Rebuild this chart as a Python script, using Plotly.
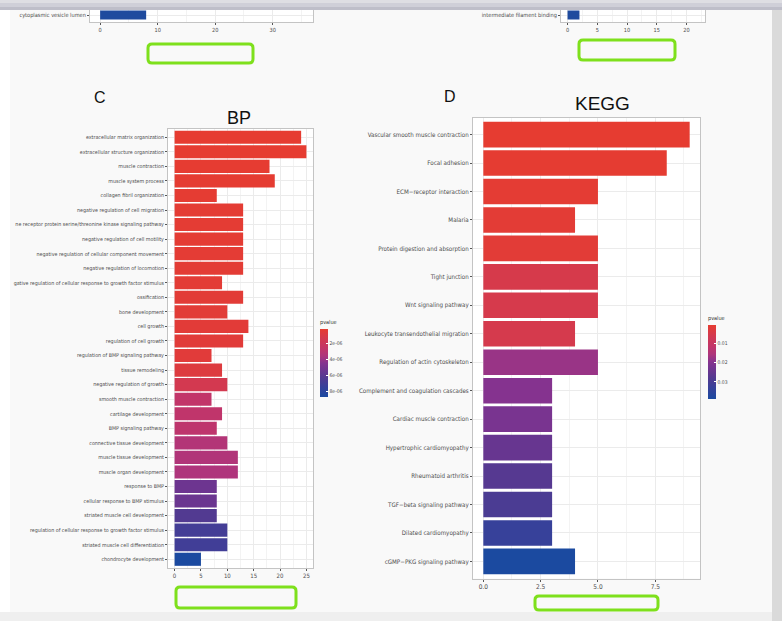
import plotly.graph_objects as go

W, H = 782, 621

def X(p):
    return p / W

def Y(p):
    return 1 - p / H

# ---------------- data ----------------
bp_terms = [
    "extracellular matrix organization",
    "extracellular structure organization",
    "muscle contraction",
    "muscle system process",
    "collagen fibril organization",
    "negative regulation of cell migration",
    "transmembrane receptor protein serine/threonine kinase signaling pathway",
    "negative regulation of cell motility",
    "negative regulation of cellular component movement",
    "negative regulation of locomotion",
    "negative regulation of cellular response to growth factor stimulus",
    "ossification",
    "bone development",
    "cell growth",
    "regulation of cell growth",
    "regulation of BMP signaling pathway",
    "tissue remodeling",
    "negative regulation of growth",
    "smooth muscle contraction",
    "cartilage development",
    "BMP signaling pathway",
    "connective tissue development",
    "muscle tissue development",
    "muscle organ development",
    "response to BMP",
    "cellular response to BMP stimulus",
    "striated muscle cell development",
    "regulation of cellular response to growth factor stimulus",
    "striated muscle cell differentiation",
    "chondrocyte development",
]
# the two longest labels are cut at the left edge of the figure in the reference
bp_labels_shown = [
    "ne receptor protein serine/threonine kinase signaling pathway" if t.startswith("transmembrane")
    else "gative regulation of cellular response to growth factor stimulus" if t.startswith("negative regulation of cellular response")
    else t
    for t in bp_terms
]
bp_counts = [24, 25, 18, 19, 8, 13, 13, 13, 13, 13, 9, 13, 10, 14, 13,
             7, 9, 10, 7, 9, 8, 10, 12, 12, 8, 8, 8, 10, 10, 5]
bp_pvalues = [1.5e-7, 1.6e-7, 1.8e-7, 2.0e-7, 2.2e-7, 2.5e-7, 2.6e-7, 2.8e-7,
              3.0e-7, 3.2e-7, 3.5e-7, 3.8e-7, 4.0e-7, 4.3e-7, 4.6e-7, 5.0e-7,
              7.0e-7, 1.4e-6, 2.6e-6, 2.7e-6, 2.8e-6, 3.3e-6, 3.4e-6, 3.5e-6,
              5.3e-6, 5.4e-6, 6.3e-6, 6.9e-6, 7.0e-6, 8.7e-6]
bp_cbar_ticks = [2e-6, 4e-6, 6e-6, 8e-6]
bp_cbar_labels = ["2e-06", "4e-06", "6e-06", "8e-06"]
bp_xticks = [0, 5, 10, 15, 20, 25]

kegg_terms = [
    "Vascular smooth muscle contraction",
    "Focal adhesion",
    "ECM\u2212receptor interaction",
    "Malaria",
    "Protein digestion and absorption",
    "Tight junction",
    "Wnt signaling pathway",
    "Leukocyte transendothelial migration",
    "Regulation of actin cytoskeleton",
    "Complement and coagulation cascades",
    "Cardiac muscle contraction",
    "Hypertrophic cardiomyopathy",
    "Rheumatoid arthritis",
    "TGF\u2212beta signaling pathway",
    "Dilated cardiomyopathy",
    "cGMP\u2212PKG signaling pathway",
]
kegg_counts = [9, 8, 5, 4, 5, 5, 5, 4, 5, 3, 3, 3, 3, 3, 3, 4]
kegg_pvalues = [0.00067, 0.0009, 0.0012, 0.0015, 0.0018, 0.0053, 0.0054, 0.0056,
                0.0179, 0.0198, 0.0217, 0.0248, 0.0275, 0.0294, 0.0332, 0.0389]
kegg_cbar_ticks = [0.01, 0.02, 0.03]
kegg_cbar_labels = ["0.01", "0.02", "0.03"]
kegg_xticks = [0, 2.5, 5, 7.5]
kegg_xlabels = ["0.0", "2.5", "5.0", "7.5"]

cc_term = ["cytoplasmic vesicle lumen"]
cc_count = [8]
cc_xticks = [0, 10, 20, 30]
mf_term = ["intermediate filament binding"]
mf_count = [2]
mf_xticks = [0, 5, 10, 15, 20]

# ---------------- style ----------------
NARROW = "Liberation Sans Narrow, DejaVu Sans Condensed, Arial Narrow, sans-serif"
SANS = "Liberation Sans, Arial, sans-serif"
TICKCOL = "#4d4d4d"
GRID = "#ebebeb"
FRAME = "#c4c4c4"
BLUE = "#1F4B9E"

# colorscale for -pvalue (0 = largest p -> blue, 1 = smallest p -> red)
cscale = [[0.0, "#1B4AA0"], [0.15, "#37419A"], [0.28, "#523A91"],
          [0.40, "#6E3590"], [0.50, "#85338F"], [0.60, "#AD357D"],
          [0.70, "#C0356B"], [0.88, "#D63A4B"], [1.0, "#E63C31"]]

fig = go.Figure()

def colorbar(xpx, ytop, ybot, ticks, labels):
    return dict(
        x=X(xpx), xanchor="left", xpad=0,
        y=Y((ytop + ybot) / 2), yanchor="middle", ypad=0,
        len=ybot - ytop, lenmode="pixels", thickness=8,
        outlinewidth=0,
        tickvals=[-t for t in ticks], ticktext=labels,
        ticks="inside", ticklen=2, tickcolor="white", tickwidth=1,
        tickfont=dict(family=NARROW, size=5, color=TICKCOL),
        title=dict(text="pvalue", side="top",
                   font=dict(family=NARROW, size=5.5, color="#333")),
    )

# BP
fig.add_trace(go.Bar(
    x=bp_counts, y=bp_terms, orientation="h", width=0.9,
    xaxis="x", yaxis="y",
    marker=dict(color=[-p for p in bp_pvalues], colorscale=cscale,
                cmin=-8.7e-6, cmax=-1.5e-7, line=dict(width=0),
                showscale=True,
                colorbar=colorbar(320, 316.7, 396.7, bp_cbar_ticks, bp_cbar_labels)),
    showlegend=False,
))

# KEGG
fig.add_trace(go.Bar(
    x=kegg_counts, y=kegg_terms, orientation="h", width=0.9,
    xaxis="x2", yaxis="y2",
    marker=dict(color=[-p for p in kegg_pvalues], colorscale=cscale,
                cmin=-0.0389, cmax=-0.00067, line=dict(width=0),
                showscale=True,
                colorbar=colorbar(708, 313, 399, kegg_cbar_ticks, kegg_cbar_labels)),
    showlegend=False,
))

# mini CC
fig.add_trace(go.Bar(x=cc_count, y=cc_term, orientation="h", width=0.9,
                     xaxis="x3", yaxis="y3", marker=dict(color=BLUE, line=dict(width=0)),
                     showlegend=False))
# mini MF
fig.add_trace(go.Bar(x=mf_count, y=mf_term, orientation="h", width=0.9,
                     xaxis="x4", yaxis="y4", marker=dict(color=BLUE, line=dict(width=0)),
                     showlegend=False))


def xaxis(dom, rng, tickvals, ticktext, minor_dtick, anchor, size):
    return dict(
        domain=[X(dom[0]), X(dom[1])], range=rng, anchor=anchor,
        tickvals=tickvals, ticktext=ticktext, automargin=False,
        showgrid=True, gridcolor=GRID, gridwidth=1,
        minor=dict(dtick=minor_dtick, tick0=0, showgrid=True, gridcolor="#f3f3f3",
                   gridwidth=0.6, ticks=""),
        showline=True, mirror=True, linecolor=FRAME, linewidth=1,
        ticks="outside", ticklen=2, tickcolor="#555", tickwidth=0.7,
        tickfont=dict(family=NARROW, size=size, color=TICKCOL),
        zeroline=False, fixedrange=True,
    )


def yaxis(dom, rng, anchor, size, tickvals=None, ticktext=None):
    d = dict(
        domain=[Y(dom[1]), Y(dom[0])], range=rng, anchor=anchor,
        type="category", automargin=False,
        showgrid=True, gridcolor=GRID, gridwidth=1,
        showline=True, mirror=True, linecolor=FRAME, linewidth=1,
        ticks="outside", ticklen=2, tickcolor="#555", tickwidth=0.7,
        tickfont=dict(family=NARROW, size=size, color=TICKCOL),
        zeroline=False, fixedrange=True,
    )
    if tickvals is not None:
        d.update(tickmode="array", tickvals=tickvals, ticktext=ticktext)
    return d

n_bp = len(bp_terms)
n_kegg = len(kegg_terms)

fig.update_layout(
    width=W, height=H,
    margin=dict(l=0, r=0, t=0, b=0, autoexpand=False),
    paper_bgcolor="#f9f9f9", plot_bgcolor="white",
    bargap=0.1,
    xaxis=xaxis((168, 313), [-1.25, 26.25], bp_xticks, [str(v) for v in bp_xticks], 2.5, "y", 6),
    yaxis=yaxis((128.5, 568), [n_bp - 0.4, -0.6], "x", 5.3, bp_terms, bp_labels_shown),
    xaxis2=xaxis((473, 700), [-0.45, 9.45], kegg_xticks, kegg_xlabels, 1.25, "y2", 6.5),
    yaxis2=yaxis((117.5, 578.5), [n_kegg - 0.4, -0.6], "x2", 6.2),
    xaxis3=xaxis((90, 313), [-1.76, 37.0], cc_xticks, [str(v) for v in cc_xticks], 5, "y3", 5.6),
    yaxis3=yaxis((0, 22), [0.7, -1.5], "x3", 5.6),
    xaxis4=xaxis((561, 705), [-1.1, 23.1], mf_xticks, [str(v) for v in mf_xticks], 2.5, "y4", 5.6),
    yaxis4=yaxis((0, 22), [0.7, -1.5], "x4", 5.6),
)

ann = [
    dict(text="BP", x=X(239), y=Y(118.5), size=18),
    dict(text="KEGG", x=X(602), y=Y(104), size=19),
    dict(text="C", x=X(100), y=Y(97), size=16),
    dict(text="D", x=X(450), y=Y(96.5), size=16),
]
for a in ann:
    fig.add_annotation(text=a["text"], x=a["x"], y=a["y"], xref="paper", yref="paper",
                       xanchor="center", yanchor="middle", showarrow=False,
                       font=dict(family=SANS, size=a["size"], color="#111"))


def rpath(x0, y0, x1, y1, r):
    return (f"M{X(x0+r)},{Y(y0)} L{X(x1-r)},{Y(y0)} Q{X(x1)},{Y(y0)} {X(x1)},{Y(y0+r)} "
            f"L{X(x1)},{Y(y1-r)} Q{X(x1)},{Y(y1)} {X(x1-r)},{Y(y1)} "
            f"L{X(x0+r)},{Y(y1)} Q{X(x0)},{Y(y1)} {X(x0)},{Y(y1-r)} "
            f"L{X(x0)},{Y(y0+r)} Q{X(x0)},{Y(y0)} {X(x0+r)},{Y(y0)} Z")

shapes = []
def rect(x0, y0, x1, y1, color, layer="above"):
    shapes.append(dict(type="rect", xref="paper", yref="paper",
                       x0=X(x0), x1=X(x1), y0=Y(y1), y1=Y(y0),
                       fillcolor=color, line=dict(width=0), layer=layer))

rect(0, 0, 10, 621, "#ffffff")
rect(0, 612, 782, 621, "#efefef")
rect(772, 0, 782, 621, "#dadada")
rect(0, 0, 782, 3, "#dedee3")
rect(0, 3, 782, 7, "#cfcfd8")
rect(0, 7, 782, 10, "#bebec9")

for (x0, y0, x1, y1) in [(148, 44, 253, 63), (579, 40, 675, 60),
                         (176, 587, 296, 608), (535, 596, 658, 610)]:
    shapes.append(dict(type="path", xref="paper", yref="paper",
                       path=rpath(x0, y0, x1, y1, 4),
                       line=dict(color="#7EE01C", width=3), fillcolor="rgba(0,0,0,0)",
                       layer="above"))

fig.update_layout(shapes=shapes)

fig.write_html("out.html", config={"displayModeBar": False},
               post_script="document.body.style.margin='0';document.body.style.overflow='hidden';")
